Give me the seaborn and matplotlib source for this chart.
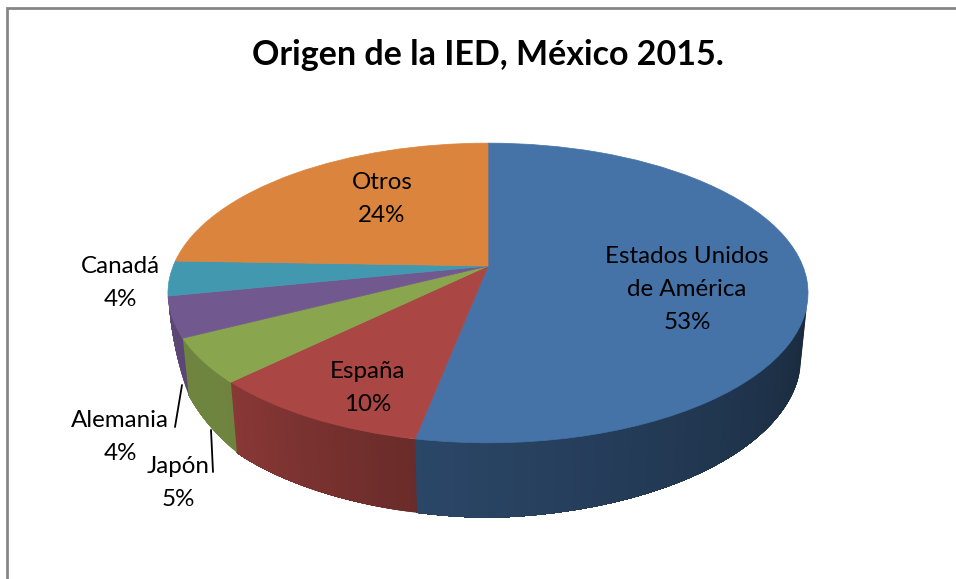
import numpy as np
import matplotlib
matplotlib.use("Agg")
import matplotlib.pyplot as plt
from matplotlib.transforms import Transform
import seaborn as sns

countries = ["Estados Unidos\nde América", "España", "Japón", "Alemania", "Canadá", "Otros"]
shares = [53.05, 9.6, 4.8, 4.35, 3.75, 24.45]
percent_labels = ["53%", "10%", "5%", "4%", "4%", "24%"]
top_colors = ["#4572A7", "#AA4643", "#89A54E", "#71588F", "#4198AF", "#DB843D"]
title_text = "Origen de la IED, México 2015."

sns.set_theme(style="white")
plt.rcParams["font.family"] = ["Lato", "DejaVu Sans"]

W, H = 956, 579
APEX_X, APEX_Y = 488.0, 266.0
A, B, K = 314.8, 145.0, 0.18


def project(u, v):
    w = 1 + K * v
    return APEX_X + A * u / w, APEX_Y - B * v / w


class TiltedDisc(Transform):
    input_dims = 2
    output_dims = 2
    has_inverse = False

    def transform_non_affine(self, values):
        values = np.asarray(values, dtype=float)
        x, y = project(values[:, 0], values[:, 1])
        return np.column_stack([x, y])


fig = plt.figure(figsize=(W / 100, H / 100), dpi=100, facecolor="white")
ax = fig.add_axes([0, 0, 1, 1])

wedges, _ = ax.pie(shares, colors=top_colors, startangle=90, counterclock=False,
                   wedgeprops=dict(linewidth=0))
ax.set_aspect("auto")
ax.set_xlim(0, W)
ax.set_ylim(H, 0)
ax.axis("off")
disc = TiltedDisc() + ax.transData
for wedge, color in zip(wedges, top_colors):
    wedge.set_transform(disc)
    wedge.set_zorder(3)
    wedge.set_edgecolor(color)
    wedge.set_linewidth(0.5)

# side wall of the disc
depth_angles = [-171, -153, -135, -100, -90, -15]
depth_px = [0, 57, 71, 74, 75, 65]
shade_angles = [-171, -135, -101, -15]
shade_vals = [0.82, 0.80, 0.62, 0.37]
X_SHRINK = 0.975


def rim(theta_deg):
    t = np.radians(theta_deg)
    return project(np.cos(t), np.sin(t))


def wall_point(theta_deg):
    x, y = rim(theta_deg)
    d = np.interp(theta_deg, depth_angles, depth_px)
    return APEX_X + (x - APEX_X) * (1 - (1 - X_SHRINK) * d / 75), y + d


edges = 90 - np.cumsum([0] + shares) * 3.6
for i, color in enumerate(top_colors):
    hi, lo = min(edges[i], -15), max(edges[i + 1], -171)
    if hi <= lo:
        continue
    steps = max(2, int(hi - lo))
    ts = np.linspace(hi, lo, steps + 1)
    rgb = np.array(matplotlib.colors.to_rgb(color))
    # each strip runs on to the far end of the slice, the next one paints over it
    for t0 in ts[:-1]:
        arc = np.linspace(t0, lo, max(2, int(abs(t0 - lo)) + 1))
        xt, yt = rim(arc)
        xb, yb = wall_point(arc)
        shade = np.interp(t0 - 0.5, shade_angles, shade_vals)
        ax.fill(np.r_[xt, xb[::-1]], np.r_[yt, yb[::-1]],
                facecolor=rgb * shade, edgecolor="none", zorder=2)

# chart frame
ax.plot([7.5, 7.5, W + 2], [H + 2, 8, 8], color="#868686", lw=2, zorder=1, solid_joinstyle="miter")

# leader lines
ax.plot([182, 175], [385, 427], color="black", lw=1.3, zorder=4)
ax.plot([211, 213], [430, 472], color="black", lw=1.3, zorder=4)

# labels: first baseline of each, one line at a time
label_xy = [(687, 263), (368, 378), (178, 473), (120, 427), (120, 273), (382, 189)]
LINE_GAP = 33
FS = 17.4
for name, pct, (x, y) in zip(countries, percent_labels, label_xy):
    for n, line in enumerate(name.split("\n") + [pct]):
        ax.text(x, y + n * LINE_GAP, line, ha="center", va="baseline", fontsize=FS,
                color="black", zorder=5)

ax.text(488, 55, title_text, ha="center", va="center", fontsize=24.5,
        fontweight="bold", color="black", zorder=5)

fig.savefig("out.png", dpi=100)
